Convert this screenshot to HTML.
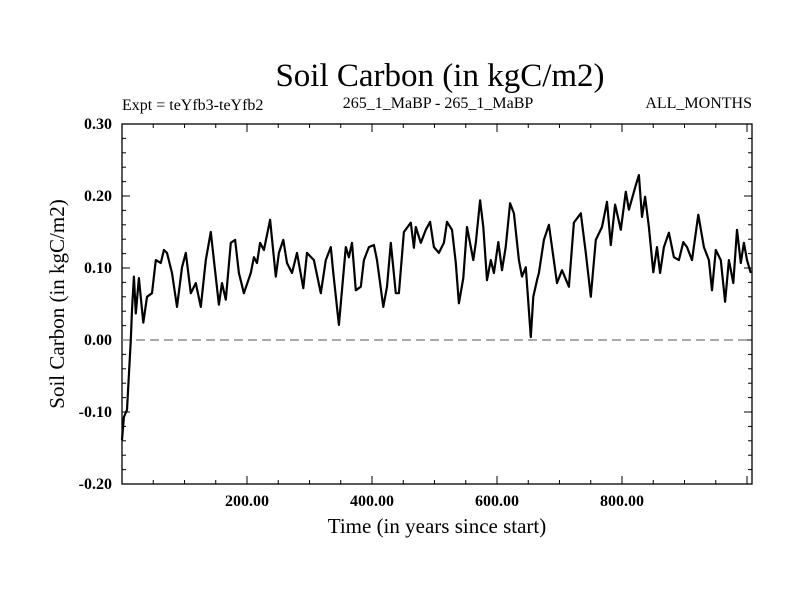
<!DOCTYPE html>
<html><head><meta charset="utf-8"><style>
body{margin:0;background:#fff}
svg text{font-family:"Liberation Serif",serif;fill:#000}
</style></head><body>
<svg id="chart" width="800" height="600" viewBox="0 0 800 600">
<rect width="800" height="600" fill="#fff"/>
<text x="440" y="86" font-size="33" text-anchor="middle">Soil Carbon (in kgC/m2)</text>
<text x="122" y="110" font-size="16">Expt = teYfb3-teYfb2</text>
<text x="438" y="108" font-size="16" text-anchor="middle">265_1_MaBP - 265_1_MaBP</text>
<text x="752" y="108" font-size="16" text-anchor="end">ALL_MONTHS</text>
<text x="437" y="533" font-size="21" text-anchor="middle">Time (in years since start)</text>
<text transform="translate(64,304) rotate(-90)" font-size="21" text-anchor="middle">Soil Carbon (in kgC/m2)</text>
<g id="axes"></g>
<g id="series"></g>
</svg>
<script>
const years=[0,3,8,14,16,19,22,27,34,40,48,54,62,67,72,80,88,96,102,110,118,126,134,142,147,155,160,166,174,181,187,195,206,211,216,221,227,237,246,251,258,264,272,280,290,296,307,318,326,334,338,347,358,363,368,374,382,387,395,403,408,418,424,430,438,443,451,462,467,470,478,486,493,499,507,515,520,528,534,539,546,552,562,566,573,578,584,590,595,602,608,614,621,627,635,640,646,654,658,664,667,675,683,688,696,704,715,723,734,742,750,758,768,776,782,789,798,806,811,822,827,832,837,843,850,856,861,867,875,883,891,898,904,912,922,931,939,944,950,958,965,971,978,984,990,995,1000,1006];
const values=[-0.139,-0.107,-0.097,0.000,0.042,0.088,0.037,0.086,0.024,0.060,0.065,0.111,0.107,0.125,0.121,0.093,0.046,0.101,0.121,0.065,0.079,0.046,0.111,0.150,0.111,0.049,0.079,0.056,0.135,0.139,0.093,0.065,0.093,0.115,0.107,0.135,0.125,0.167,0.088,0.121,0.139,0.107,0.093,0.121,0.072,0.121,0.111,0.065,0.111,0.129,0.093,0.021,0.129,0.115,0.135,0.069,0.074,0.111,0.129,0.132,0.111,0.046,0.074,0.135,0.065,0.065,0.150,0.163,0.128,0.157,0.135,0.153,0.164,0.129,0.121,0.135,0.164,0.153,0.107,0.051,0.086,0.157,0.111,0.135,0.194,0.157,0.083,0.111,0.093,0.136,0.097,0.129,0.190,0.176,0.111,0.088,0.101,0.004,0.060,0.083,0.093,0.139,0.160,0.129,0.079,0.097,0.074,0.163,0.176,0.121,0.060,0.139,0.157,0.192,0.132,0.188,0.153,0.206,0.181,0.215,0.229,0.171,0.199,0.157,0.094,0.129,0.093,0.129,0.149,0.115,0.111,0.136,0.129,0.111,0.174,0.129,0.111,0.069,0.125,0.111,0.053,0.111,0.079,0.153,0.107,0.135,0.111,0.093];
const yTickLabels=["-0.20","-0.10","0.00","0.10","0.20","0.30"];
const xTickLabels=["200.00","400.00","600.00","800.00"];
const NS="http://www.w3.org/2000/svg";
const L=122,R=752,T=124,B=484;
const xMin=0,xMax=1008,yMin=-0.2,yMax=0.3;
const sx=v=>L+(v-xMin)/(xMax-xMin)*(R-L);
const sy=v=>B-(v-yMin)/(yMax-yMin)*(B-T);
function mk(tag,attrs,parent){const e=document.createElementNS(NS,tag);for(const k in attrs)e.setAttribute(k,attrs[k]);parent.appendChild(e);return e;}
const ax=document.getElementById('axes');
const frame=mk('rect',{x:L,y:T,width:R-L,height:B-T,fill:'none',stroke:'#000','stroke-width':1.3},ax);


for(let i=0;i<=25;i++){const v=-0.2+i*0.02;const y=sy(v);const len=(i%5===0)?8:4;
 const t1=mk('line',{x1:L,x2:L+len,y1:y,y2:y,stroke:'#000','stroke-width':1},ax);
 
 
 const t2=mk('line',{x1:R,x2:R-len,y1:y,y2:y,stroke:'#000','stroke-width':1},ax);
 
 }
yTickLabels.forEach(s=>{const t=mk('text',{x:112,y:sy(parseFloat(s))+5,'font-size':16,'font-weight':'bold','text-anchor':'end'},ax);t.textContent=s;
 
 });
for(let v=50;v<xMax;v+=50){const x=sx(v);const len=(v%200===0)?8:4;
 const t1=mk('line',{x1:x,x2:x,y1:B,y2:B-len,stroke:'#000','stroke-width':1},ax);
 
 
 const t2=mk('line',{x1:x,x2:x,y1:T,y2:T+len,stroke:'#000','stroke-width':1},ax);
 
 }
xTickLabels.forEach(s=>{const t=mk('text',{x:sx(parseFloat(s)),y:506,'font-size':16,'font-weight':'bold','text-anchor':'middle'},ax);t.textContent=s;
 
 });
const zl=mk('line',{x1:L,x2:R,y1:sy(0),y2:sy(0),stroke:'#777','stroke-width':1.3,'stroke-dasharray':'9,5'},ax);


const pts=years.map((yr,i)=>sx(yr).toFixed(1)+','+sy(values[i]).toFixed(1)).join(' ');
const line=mk('polyline',{points:pts,fill:'none',stroke:'#000','stroke-width':2.2,'stroke-linejoin':'round'},document.getElementById('series'));


</script>
</body></html>
